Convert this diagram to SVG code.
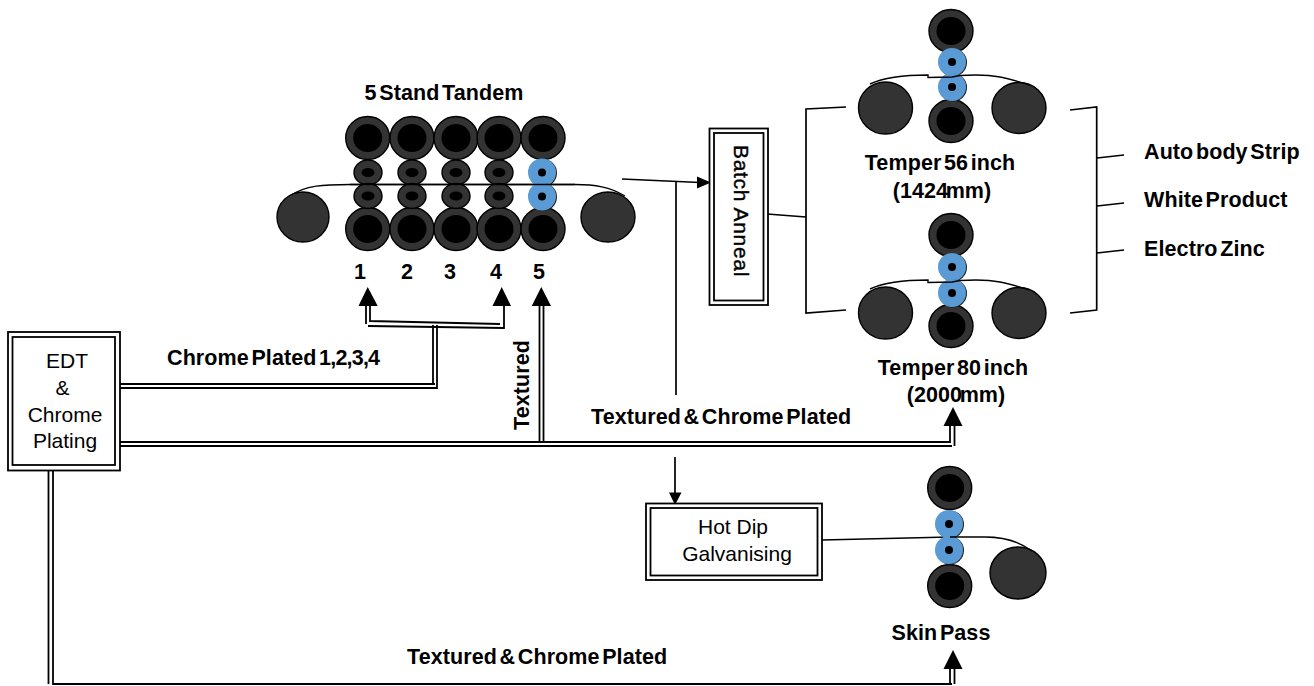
<svg xmlns="http://www.w3.org/2000/svg" xmlns:xlink="http://www.w3.org/1999/xlink" width="1314" height="686" viewBox="0 0 1314 686">
<style>
text{font-family:"Liberation Sans",Arial,sans-serif;fill:#000}
.b{font-weight:700;font-size:21.5px;letter-spacing:.1px;word-spacing:-3.500px}
.r{font-size:21px}
.m{text-anchor:middle}
.box{fill:#fff;stroke:#000;stroke-width:1.8}
.roll{fill:#333;stroke:#000;stroke-width:1.4}
.blue{fill:#5b9bd5}
.in{fill:#000}
.strip{fill:none;stroke:#000;stroke-width:1.4}
.thin{fill:none;stroke:#000;stroke-width:1.7}
.dbl{fill:none;stroke:#000;stroke-width:1.8}
</style>
<defs>
<g id="big"><ellipse class="roll" rx="22" ry="21.5"/><ellipse class="in" rx="14.500" ry="14"/></g>
<g id="small"><ellipse class="roll" rx="14" ry="12.500"/><ellipse class="in" rx="6.500" ry="4.500"/></g>
<g id="bw"><circle cx="1" cy=".5" r="14" fill="#222"/><circle class="blue" r="14"/><circle class="in" r="4"/></g>
</defs>
<g id="connectors">
<path class="dbl" d="M118 384H435M118 388H437V325M433 384V325"/>
<path class="dbl" d="M370 306V321L500 324M504 306V328L368 326M366 306V324"/>
<path class="dbl" d="M118 442H950V426M118 446H952M954.500 426V446"/>
<path class="dbl" d="M539.500 306V442M543.500 306V442"/>
<path class="dbl" d="M48.500 471V684M53 471V684H952M950 684V669M954.500 669V684"/>
<path d="M358.500 306L367.700 287L377.700 306ZM492.500 306L501.700 287L511 306ZM531.700 306L541.300 287L551 306ZM943.500 426L953 407L962.500 426ZM943.500 669L953 650L962.500 669Z"/>
<path class="thin" d="M622 179L700 182.500M676 182V395M675 457V494"/>
<path d="M697 176.500L711 182.500L697 188.500ZM669 492.500H681.500L675 505Z"/>
<path class="thin" d="M767 214L806 217M846 107L806 109V313L846 310M1070 110L1096.700 107V310L1070 313M1097 158L1124 155M1097 206L1124 203M1097 253L1124 250"/>
<path class="strip" d="M822 540L950 537"/>
</g>
<g id="tandem">
<path class="strip" d="M290 196C305 185 325 184.500 350 184.500H575C595 184.500 610 187 625 196"/>
<ellipse class="roll" cx="303" cy="217" rx="26" ry="25"/>
<ellipse class="roll" cx="608" cy="217" rx="27" ry="25"/>
<use xlink:href="#big" x="367.700" y="138"/><use xlink:href="#big" x="412" y="138"/><use xlink:href="#big" x="456" y="138"/><use xlink:href="#big" x="499" y="138"/><use xlink:href="#big" x="543" y="138"/>
<use xlink:href="#big" x="367.700" y="229"/><use xlink:href="#big" x="412" y="229"/><use xlink:href="#big" x="456" y="229"/><use xlink:href="#big" x="499" y="229"/><use xlink:href="#big" x="543" y="229"/>
<use xlink:href="#small" x="368" y="172.500"/><use xlink:href="#small" x="412" y="172.500"/><use xlink:href="#small" x="456" y="172.500"/><use xlink:href="#small" x="499" y="172.500"/>
<use xlink:href="#small" x="368" y="196"/><use xlink:href="#small" x="412" y="196"/><use xlink:href="#small" x="456" y="196"/><use xlink:href="#small" x="499" y="196"/>
<use xlink:href="#bw" x="542" y="172.500"/><use xlink:href="#bw" x="542" y="196.500"/>
<path class="strip" d="M350 184.500H575"/>
<text class="b m" x="444" y="100">5 Stand Tandem</text>
<text class="b m" x="360" y="279">1</text><text class="b m" x="407" y="279">2</text><text class="b m" x="450" y="279">3</text><text class="b m" x="496" y="279">4</text><text class="b m" x="539" y="279">5</text>
</g>
<g id="temper56">
<use xlink:href="#big" x="951" y="31"/><use xlink:href="#big" x="951" y="121"/>
<ellipse class="roll" cx="885.500" cy="108" rx="27" ry="26"/><ellipse class="roll" cx="1019" cy="108" rx="27" ry="25.500"/>
<use xlink:href="#bw" x="952" y="62"/><use xlink:href="#bw" x="952" y="87"/>
<path class="strip" d="M870 84C885 77 905 75 928 75V77.500L952 77L960 75.500C975 74.500 990 75 1000 77C1010 79 1020 82 1030 85"/>
<text class="b m" x="940" y="170" word-spacing="-5">Temper 56 inch</text>
<text class="b m" x="942" y="198">(1424<tspan dx="-2.500">mm)</tspan></text>
</g>
<g id="temper80">
<use xlink:href="#big" x="951" y="235"/><use xlink:href="#big" x="951" y="326"/>
<ellipse class="roll" cx="885.500" cy="313" rx="27" ry="26"/><ellipse class="roll" cx="1019" cy="313" rx="27" ry="25.500"/>
<use xlink:href="#bw" x="952" y="267"/><use xlink:href="#bw" x="952" y="293"/>
<path class="strip" d="M870 289C885 282 905 280 928 280V282.500L952 282L960 280.500C975 279.500 990 280 1000 282C1010 284 1020 287 1030 290"/>
<text class="b m" x="953" y="375" word-spacing="-5">Temper 80 inch</text>
<text class="b m" x="956" y="402">(2000<tspan dx="-2.500">mm)</tspan></text>
</g>
<g id="skinpass">
<use xlink:href="#big" x="949.700" y="488"/><use xlink:href="#big" x="949.700" y="586"/>
<ellipse class="roll" cx="1018" cy="573" rx="28" ry="26"/>
<use xlink:href="#bw" x="949" y="524"/><use xlink:href="#bw" x="949" y="550"/>
<path class="strip" d="M950 537H985C1005 537 1020 542 1032 551"/>
<text class="b m" x="941" y="640">Skin Pass</text>
</g>
<g id="batch">
<rect class="box" x="709.500" y="128.500" width="58.500" height="176.500"/><rect class="box" x="714" y="133" width="49.500" height="167.500"/>
<text class="r m" stroke="#000" stroke-width=".4" letter-spacing=".7" transform="translate(733.500 211) rotate(90)">Batch Anneal</text>
</g>
<g id="edt">
<rect class="box" x="8" y="332" width="112" height="138.500"/><rect class="box" x="12.500" y="337" width="102.500" height="128"/>
<text class="r m" x="67" y="368">EDT</text><text class="r m" x="62.500" y="395">&amp;</text><text class="r m" x="65" y="422">Chrome</text><text class="r m" x="65" y="448">Plating</text>
</g>
<g id="hotdip">
<rect class="box" x="646" y="503.500" width="176" height="76.500"/><rect class="box" x="650.500" y="508" width="167" height="67.500"/>
<text class="r m" x="733" y="534">Hot Dip</text><text class="r m" x="737" y="561">Galvanising</text>
</g>
<g id="labels">
<text class="b" x="167" y="365" letter-spacing="-.25" word-spacing="-5">Chrome Plated <tspan letter-spacing="-.8">1,2,3,4</tspan></text>
<text class="b m" transform="translate(528.500 385) rotate(-90)">Textured</text>
<text class="b" x="591" y="424" word-spacing="-3">Textured &amp; Chrome Plated</text>
<text class="b" x="407" y="664" word-spacing="-3">Textured &amp; Chrome Plated</text>
<text class="b" x="1144" y="159" word-spacing=".5">Auto body Strip</text>
<text class="b" x="1144" y="207" word-spacing="-1.500">White Product</text>
<text class="b" x="1144" y="256" word-spacing="-1.500">Electro Zinc</text>
</g>
</svg>
